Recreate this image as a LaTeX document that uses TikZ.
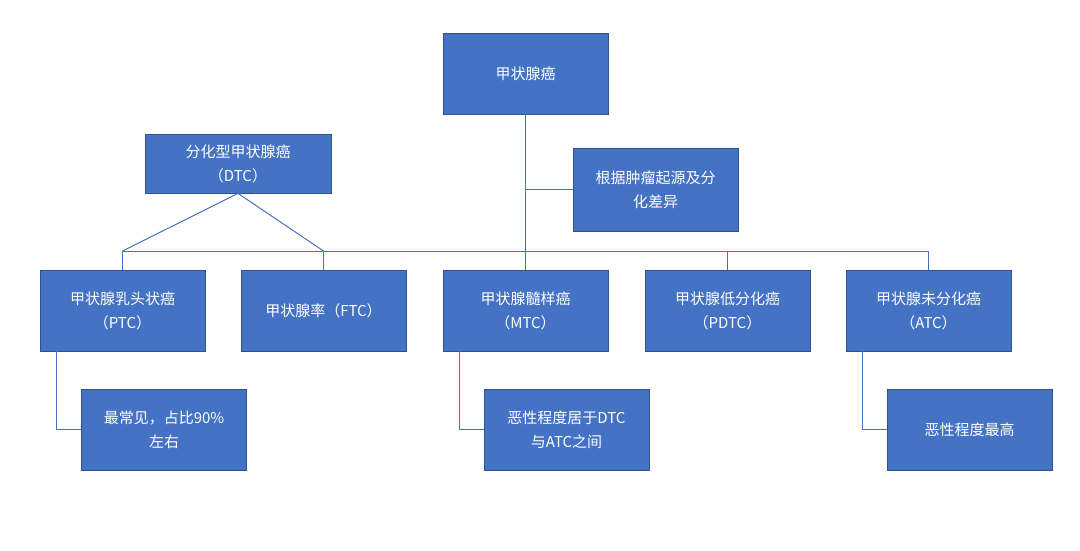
\documentclass[tikz,border=0pt]{standalone}
\usepackage{fontspec}
\setmainfont{Noto Sans CJK SC}
\usetikzlibrary{positioning}
\definecolor{boxblue}{HTML}{4472C4}
\definecolor{edgeblue}{HTML}{2F528F}
\tikzset{
  blok/.style = {draw=edgeblue, line width=0.8pt, fill=boxblue, text=white,
                 minimum width=165pt, minimum height=81pt, align=center,
                 font=\fontsize{15}{24}\selectfont, inner sep=2pt},
  liga/.style = {draw=boxblue, line width=1pt}
}
\begin{document}
\begin{tikzpicture}[x=1pt,y=-1pt]
    \useasboundingbox[fill=white] (0,0) rectangle (1080,551);

    % TOPO
    \node[blok] (raiz) at (525.5,73.5) {甲状腺癌};
    \node[blok, minimum width=186pt, minimum height=59pt] (dtc) at (238,163.5) {分化型甲状腺癌\\（DTC）};
    \node[blok, minimum height=83pt] (crit) at (655.5,189.5) {根据肿瘤起源及分\\化差异};

    % TIPOS
    \node[blok] (ptc)  at (122.5,310.5) {甲状腺乳头状癌\\（PTC）};
    \node[blok] (ftc)  at (323.5,310.5) {甲状腺率（FTC）};
    \node[blok] (mtc)  at (525.5,310.5) {甲状腺髓样癌\\（MTC）};
    \node[blok] (pdtc) at (727.5,310.5) {甲状腺低分化癌\\（PDTC）};
    \node[blok] (atc)  at (928.5,310.5) {甲状腺未分化癌\\（ATC）};

    % NOTAS
    \node[blok] (nptc) at (164,429.5) {最常见，占比90\%\\左右};
    \node[blok] (nmtc) at (566.5,429.5) {恶性程度居于DTC\\与ATC之间};
    \node[blok] (natc) at (969.5,429.5) {恶性程度最高};

    % LIGACOES
    \coordinate (barra) at (525.5,251);
    \draw[liga] (raiz.south) -- (barra);
    \draw[liga] (raiz.south |- crit.west) -- (crit.west);
    \draw[liga] (ptc.north |- barra) -- (atc.north |- barra);
    \foreach \n in {ptc,ftc,mtc,pdtc,atc}
        \draw[liga] (\n.north |- barra) -- (\n.north);
    \draw[liga] (ptc.north |- barra) -- (dtc.south) -- (ftc.north |- barra);

    \foreach \t/\n in {ptc/nptc,mtc/nmtc,atc/natc}
        \draw[liga] ([xshift=-66pt]\t.south) |- (\n.west);
\end{tikzpicture}
\end{document}
